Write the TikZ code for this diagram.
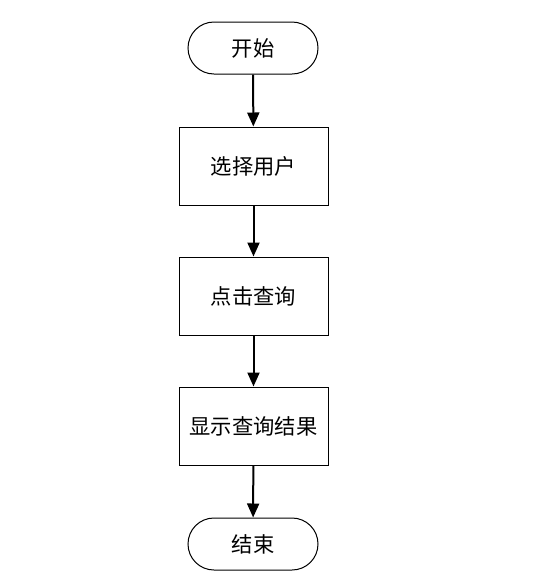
\documentclass[tikz,border=0pt]{standalone}
\usepackage{fontspec}
\setmainfont{Noto Sans CJK SC}
\usetikzlibrary{arrows.meta}

\begin{document}
\begin{tikzpicture}[x=1pt,y=-1pt,
  terminal/.style={draw,line width=1pt,rounded corners=26pt,minimum width=130pt,minimum height=52pt,inner sep=0pt,font=\fontsize{21.3}{25}\selectfont},
  stepbox/.style={draw,line width=1pt,minimum width=149pt,minimum height=78pt,inner sep=0pt,font=\fontsize{21.3}{25}\selectfont},
  flow/.style={-{Triangle[width=12pt,length=14pt]},line width=2pt}]
\useasboundingbox (0,0) rectangle (541,582);

\node (start) at (253,48) [terminal] {开始};
\node (b1) at (253.5,166) [stepbox] {选择用户};
\node (b2) at (253.5,296) [stepbox] {点击查询};
\node (b3) at (253.5,426) [stepbox] {显示查询结果};
\node (stop) at (253,544) [terminal] {结束};

\draw [flow] (start) -- (b1);
\draw [flow] (b1) -- (b2);
\draw [flow] (b2) -- (b3);
\draw [flow] (b3) -- (stop);
\end{tikzpicture}
\end{document}
